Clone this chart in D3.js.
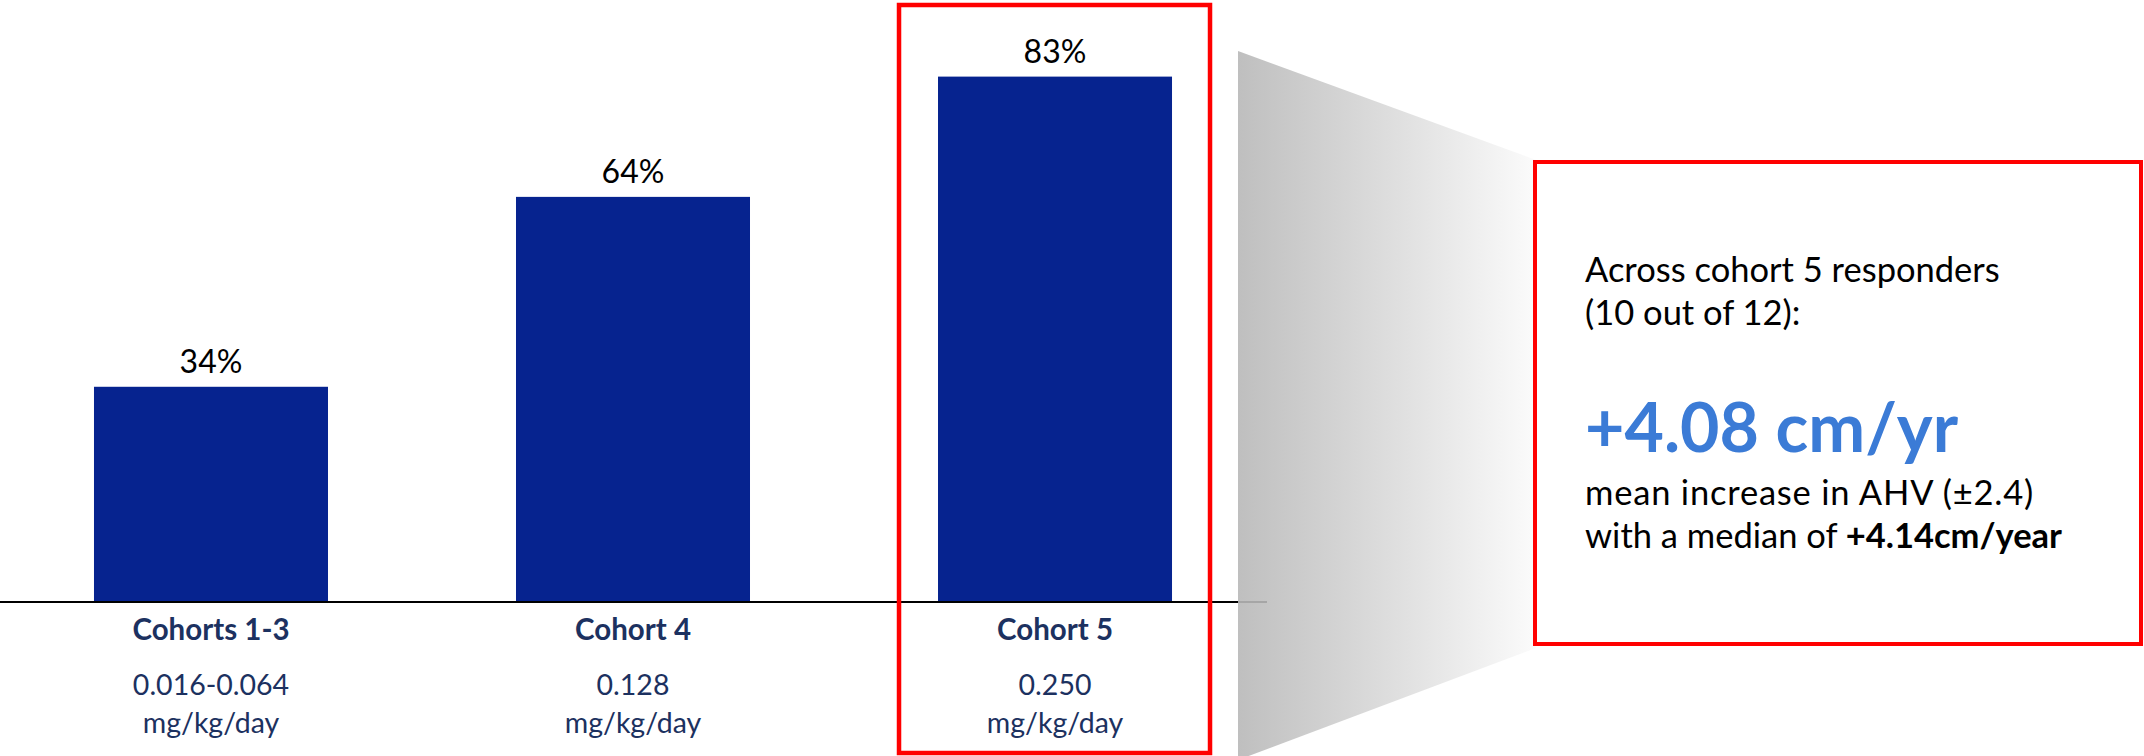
<!DOCTYPE html>
<html>
<head>
<meta charset="utf-8">
<script src="https://cdn.jsdelivr.net/npm/d3@7"></script>
<style>
  html, body { margin: 0; padding: 0; background: #ffffff; }
  svg { display: block; font-family: Lato, "Open Sans", sans-serif; }
</style>
</head>
<body>
<svg id="chart" width="2144" height="756"></svg>
<script>
// Response rate by dose cohort
const cohorts = ["Cohorts 1-3", "Cohort 4", "Cohort 5"];
const responseRates = [34, 64, 83];
const doseValues = ["0.016-0.064", "0.128", "0.250"];
const doseUnits = ["mg/kg/day", "mg/kg/day", "mg/kg/day"];

// Callout for the highlighted cohort
const calloutLines = ["Across cohort 5 responders", "(10 out of 12):"];
const calloutHeadline = "+4.08 cm/yr";
const calloutDetail = "mean increase in AHV (\u00b12.4)";
const calloutMedianPrefix = "with a median of ";
const calloutMedianValue = "+4.14cm/year";
const highlighted = "Cohort 5";

const svg = d3.select("#chart");
const baseY = 602;

const x = d3.scaleBand()
  .domain(cohorts)
  .range([0, 1266])
  .paddingInner(0.4455)
  .paddingOuter(0.2227);

const y = d3.scaleLinear()
  .domain([0, 100])
  .range([baseY, baseY - 633]);

// Gradient wedge leading to the callout box
const defs = svg.append("defs");
const grad = defs.append("linearGradient")
  .attr("id", "wedge")
  .attr("x1", "0%").attr("x2", "100%").attr("y1", "0%").attr("y2", "0%");
grad.append("stop").attr("offset", "0%").attr("stop-color", "#bfbfbf");
grad.append("stop").attr("offset", "100%").attr("stop-color", "#fbfbfb");

svg.append("path")
  .attr("d", "M1238,51 L1536,160 L1536,648 L1238,760 Z")
  .attr("fill", "url(#wedge)");

// Bars
svg.selectAll("rect.bar")
  .data(cohorts)
  .join("rect")
  .attr("class", "bar")
  .attr("x", d => x(d))
  .attr("width", x.bandwidth())
  .attr("y", (d, i) => y(responseRates[i]))
  .attr("height", (d, i) => baseY - y(responseRates[i]))
  .attr("fill", "#06238f");

// Baseline, fading out over the wedge
svg.append("line")
  .attr("x1", 0).attr("x2", 1238)
  .attr("y1", baseY).attr("y2", baseY)
  .attr("stroke", "#000").attr("stroke-width", 2);
svg.append("line")
  .attr("x1", 1238).attr("x2", 1267)
  .attr("y1", baseY).attr("y2", baseY)
  .attr("stroke", "#a6a6a6").attr("stroke-width", 2);

// Value labels
svg.selectAll("text.value")
  .data(cohorts)
  .join("text")
  .attr("class", "value")
  .attr("x", d => x(d) + x.bandwidth() / 2)
  .attr("y", (d, i) => y(responseRates[i]) - 14)
  .attr("text-anchor", "middle")
  .attr("font-size", 32)
  .attr("fill", "#000")
  .text((d, i) => responseRates[i] + "%");

// Category labels
const cat = svg.selectAll("g.cat")
  .data(cohorts)
  .join("g")
  .attr("class", "cat")
  .attr("transform", d => `translate(${x(d) + x.bandwidth() / 2},0)`);
cat.append("text")
  .attr("y", 640)
  .attr("text-anchor", "middle")
  .attr("font-size", 29.5)
  .attr("font-weight", "bold")
  .attr("fill", "#1c3160")
  .text(d => d);
cat.append("text")
  .attr("y", 695)
  .attr("text-anchor", "middle")
  .attr("font-size", 28.5)
  .attr("fill", "#1c3160")
  .text((d, i) => doseValues[i]);
cat.append("text")
  .attr("y", 733)
  .attr("text-anchor", "middle")
  .attr("font-size", 28.5)
  .attr("fill", "#1c3160")
  .text((d, i) => doseUnits[i]);

// Highlight frame around the selected cohort
const hx = x(highlighted) + x.bandwidth() / 2;
svg.append("rect")
  .attr("x", hx - 156).attr("y", 5)
  .attr("width", 311).attr("height", 748)
  .attr("fill", "none")
  .attr("stroke", "#ff0000").attr("stroke-width", 4.5);

// Callout box
svg.append("rect")
  .attr("x", 1535).attr("y", 162)
  .attr("width", 606).attr("height", 482)
  .attr("fill", "#ffffff")
  .attr("stroke", "#ff0000").attr("stroke-width", 4);

const tx = 1585;
svg.selectAll("text.callout")
  .data(calloutLines)
  .join("text")
  .attr("class", "callout")
  .attr("x", tx)
  .attr("y", (d, i) => 282 + i * 43)
  .attr("font-size", 34.5)
  .attr("fill", "#000")
  .text(d => d);

svg.append("text")
  .attr("x", tx).attr("y", 452)
  .attr("font-size", 68)
  .attr("font-weight", "bold")
  .attr("fill", "#3b7bd6")
  .text(calloutHeadline);

svg.append("text")
  .attr("x", tx).attr("y", 505)
  .attr("font-size", 34.5)
  .attr("letter-spacing", 0.8)
  .attr("fill", "#000")
  .text(calloutDetail);

const med = svg.append("text")
  .attr("x", tx).attr("y", 548)
  .attr("font-size", 34.5)
  .attr("fill", "#000");
med.append("tspan").text(calloutMedianPrefix);
med.append("tspan").attr("font-weight", "bold").text(calloutMedianValue);
</script>
</body>
</html>
